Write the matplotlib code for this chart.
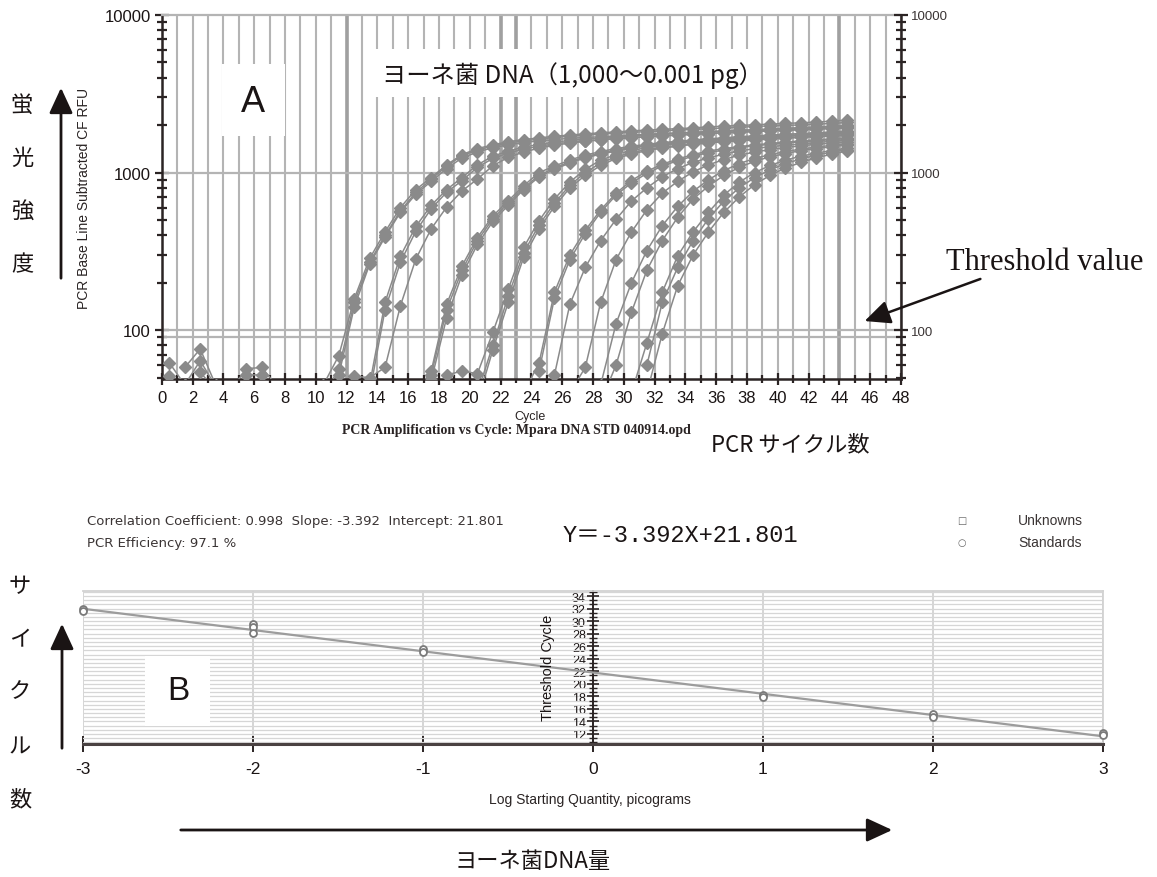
import numpy as np
import matplotlib
matplotlib.use("Agg")
import matplotlib.pyplot as plt
from matplotlib.patches import Rectangle, FancyArrowPatch
from matplotlib.ticker import MultipleLocator, LogLocator, NullFormatter

plt.rcParams["axes.unicode_minus"] = False

# ---- data ----
cycles = np.arange(0.5, 45.0, 1.0)   # 45 reads per well

# amplification curves: values from a start index into `cycles`
rfu_1000pg = [
    [38, 57, 150, 270, 400, 571, 750, 905, 1100, 1280, 1390, 1475, 1540, 1590, 1630, 1670, 1700, 1730,
     1750, 1780, 1800, 1820, 1840, 1860, 1880, 1900, 1920, 1940, 1960, 1980, 1990, 2010, 2030, 2050, 2080],
    [45, 69, 158, 285, 420, 600, 780, 930, 1120, 1300, 1420, 1500, 1570, 1620, 1660, 1700, 1730, 1760,
     1790, 1810, 1840, 1860, 1880, 1900, 1920, 1950, 1970, 1990, 2010, 2030, 2050, 2070, 2090, 2120, 2150],
    [52, 140, 262, 390, 560, 730, 880, 1060, 1240, 1350, 1440, 1500, 1550, 1590, 1620, 1650, 1670, 1690,
     1710, 1730, 1750, 1770, 1790, 1800, 1820, 1840, 1850, 1870, 1880, 1900, 1910, 1930, 1950, 1970],
]
start_1000pg = [10, 10, 11]

rfu_100pg = [
    [51, 50, 58, 143, 283, 440, 604, 765, 910, 1105, 1250, 1350, 1430, 1490, 1540, 1580, 1610, 1640,
     1660, 1690, 1710, 1730, 1750, 1770, 1790, 1810, 1830, 1850, 1860, 1880, 1900, 1920, 1940],
    [45, 150, 295, 455, 620, 780, 930, 1120, 1270, 1370, 1450, 1510, 1560, 1600, 1630, 1660, 1690, 1710,
     1730, 1750, 1770, 1790, 1810, 1830, 1850, 1870, 1890, 1910, 1930, 1950, 1970, 1990],
    [40, 135, 270, 425, 590, 750, 890, 1080, 1230, 1330, 1410, 1470, 1520, 1560, 1590, 1620, 1650, 1670,
     1690, 1710, 1730, 1750, 1770, 1790, 1800, 1820, 1840, 1850, 1870, 1880, 1900, 1920],
]
start_100pg = [12, 13, 13]

rfu_10pg = [
    [40, 55, 146, 256, 387, 530, 662, 825, 1000, 1100, 1200, 1290, 1360, 1420, 1470, 1510, 1550, 1580,
     1610, 1640, 1660, 1690, 1710, 1730, 1750, 1770, 1790, 1810, 1830],
    [35, 52, 135, 240, 370, 510, 640, 800, 960, 1070, 1170, 1260, 1330, 1390, 1440, 1490, 1530, 1560,
     1590, 1620, 1640, 1660, 1680, 1700, 1720, 1740, 1760, 1780, 1800],
    [48, 120, 225, 350, 490, 620, 780, 940, 1050, 1150, 1240, 1310, 1370, 1430, 1470, 1510, 1550, 1580,
     1600, 1630, 1650, 1670, 1690, 1710, 1730, 1750, 1760, 1780],
]
start_10pg = [16, 16, 17]

rfu_1pg = [
    [52, 55, 53, 97, 182, 335, 495, 680, 870, 1050, 1200, 1300, 1380, 1440, 1490, 1530, 1560, 1590,
     1620, 1640, 1660, 1680, 1700, 1720, 1740, 1750, 1770],
    [40, 80, 165, 310, 465, 640, 830, 1000, 1150, 1260, 1340, 1400, 1450, 1490, 1530, 1560, 1590, 1610,
     1630, 1650, 1670, 1690, 1700, 1720, 1740],
    [35, 75, 150, 290, 440, 610, 800, 960, 1110, 1230, 1310, 1380, 1430, 1470, 1510, 1540, 1570, 1590,
     1610, 1630, 1650, 1670, 1690, 1700, 1720],
]
start_1pg = [18, 20, 20]

rfu_01pg = [
    [40, 62, 174, 300, 430, 580, 740, 890, 1020, 1130, 1220, 1300, 1370, 1420, 1460, 1500, 1530, 1560,
     1590, 1610, 1640, 1660],
    [55, 160, 280, 410, 560, 720, 860, 990, 1100, 1190, 1270, 1340, 1390, 1440, 1480, 1510, 1540, 1570,
     1590, 1620, 1640],
    [40, 52, 146, 250, 370, 505, 660, 800, 940, 1060, 1160, 1240, 1310, 1370, 1420, 1460, 1490, 1520,
     1550, 1580, 1600],
]
start_01pg = [23, 24, 24]

rfu_001pg = [
    [40, 58, 150, 280, 420, 580, 740, 880, 1010, 1120, 1210, 1290, 1350, 1400, 1440, 1480, 1510, 1540, 1560],
    [45, 110, 200, 320, 460, 610, 760, 900, 1030, 1140, 1230, 1300, 1360, 1410, 1450, 1490, 1520],
    [35, 60, 130, 240, 370, 520, 680, 820, 960, 1080, 1180, 1260, 1320, 1380, 1420, 1460, 1500],
]
start_001pg = [26, 28, 28]

rfu_0001pg = [
    [40, 83, 174, 296, 420, 560, 720, 870, 1000, 1110, 1200, 1270, 1330, 1380, 1430],
    [60, 150, 250, 370, 510, 660, 800, 930, 1040, 1140, 1220, 1290, 1350, 1400],
    [40, 95, 191, 300, 420, 560, 700, 840, 960, 1070, 1160, 1240, 1310, 1370],
]
start_0001pg = [30, 31, 31]

# early baseline noise that pokes above the axis floor
rfu_noise = [[62, 45], [51, 42], [58, 76, 45], [45, 64, 44], [54, 42], [42, 57, 58, 44], [40, 52, 52, 42]]
start_noise = [0, 0, 1, 1, 2, 4, 4]

threshold_rfu = 91

# standard curve
std_log_qty = [-3, -3, -2, -2, -2, -1, -1, 1, 1, 2, 2, 3, 3]
std_ct = [31.9, 31.6, 29.5, 29.0, 28.1, 25.5, 25.0, 18.2, 17.9, 15.2, 14.7, 12.1, 11.9]
slope = -3.392
intercept = 21.801
corr_coef = 0.998
efficiency = 97.1

# ---- figure ----
W, H = 1157, 878
JP = ["Noto Sans CJK JP", "DejaVu Sans"]
SANS = ["Liberation Sans", "DejaVu Sans"]
SERIF = ["Liberation Serif", "DejaVu Serif"]
GRID = "#b4b4b4"
CURVE = "#8a8a8a"
AXIS = "#2b2424"


def fx(px):
    return px / W


def fy(py):
    return 1 - py / H


def white_box(ax, x0, y0, x1, y1):
    ax.add_patch(Rectangle((fx(x0), fy(y1)), fx(x1) - fx(x0), fy(y0) - fy(y1),
                           transform=ax.figure.transFigure, facecolor="white",
                           edgecolor="none", zorder=1))


def arrow(fig, p0, p1, lw=2.0):
    fig.add_artist(FancyArrowPatch((fx(p0[0]), fy(p0[1])), (fx(p1[0]), fy(p1[1])),
                                   transform=fig.transFigure,
                                   arrowstyle="-|>,head_length=1.3,head_width=0.6",
                                   mutation_scale=12, color="#1a1414", lw=lw))


fig = plt.figure(figsize=(W / 100, H / 100), dpi=100)

# ---- panel A: amplification plot ----
ax = fig.add_axes([fx(161.7), fy(380), fx(901) - fx(161.7), fy(16) - fy(380)])
ax.set_yscale("log")
ax.set_xlim(0, 48)
ax.set_ylim(49, 10000)
ax.set_axisbelow(True)

ax.xaxis.set_major_locator(MultipleLocator(2))
ax.xaxis.set_minor_locator(MultipleLocator(1))
ax.grid(which="both", axis="x", color=GRID, lw=1.5)
for c in [12, 22, 23, 44]:
    ax.axvline(c, color="#a0a0a0", lw=2.6, zorder=0.6)
for v in [100, 1000, threshold_rfu]:
    ax.axhline(v, color=GRID, lw=1.6, zorder=0.6)

ax.set_yticks([100, 1000, 10000], labels=["100", "1000", "10000"])
ax.yaxis.set_minor_locator(LogLocator(base=10, subs=np.arange(2, 10)))
ax.yaxis.set_minor_formatter(NullFormatter())
ax.tick_params(axis="both", which="both", direction="inout", color=AXIS, width=1.6)
ax.tick_params(axis="x", which="major", length=8, labelsize=12, pad=4)
ax.tick_params(axis="x", which="minor", length=6)
ax.tick_params(axis="y", which="major", length=10, labelsize=12, pad=3)
ax.tick_params(axis="y", which="minor", length=7)
for lab in ax.get_xticklabels() + ax.get_yticklabels():
    lab.set_family(SANS)
    lab.set_color("#1a1414")
for s in ["left", "bottom"]:
    ax.spines[s].set_color(AXIS)
    ax.spines[s].set_linewidth(1.8)
ax.spines["top"].set_color(GRID)
ax.spines["top"].set_linewidth(1.6)
ax.spines["right"].set_visible(False)

axr = ax.twinx()
axr.set_yscale("log")
axr.set_ylim(ax.get_ylim())
axr.set_yticks([100, 1000, 10000], labels=["100", "1000", "10000"])
axr.yaxis.set_minor_locator(LogLocator(base=10, subs=np.arange(2, 10)))
axr.yaxis.set_minor_formatter(NullFormatter())
axr.tick_params(axis="y", which="both", direction="inout", color=AXIS, width=1.6,
                labelsize=9.5, pad=2, labelcolor="#3a3434")
axr.tick_params(axis="y", which="major", length=10)
axr.tick_params(axis="y", which="minor", length=7)
for lab in axr.get_yticklabels():
    lab.set_family(SANS)
for s in ["left", "top", "bottom"]:
    axr.spines[s].set_visible(False)
axr.spines["right"].set_color(AXIS)
axr.spines["right"].set_linewidth(1.8)

groups = [(rfu_noise, start_noise), (rfu_1000pg, start_1000pg), (rfu_100pg, start_100pg),
          (rfu_10pg, start_10pg), (rfu_1pg, start_1pg), (rfu_01pg, start_01pg),
          (rfu_001pg, start_001pg), (rfu_0001pg, start_0001pg)]
for curves, starts in groups:
    for vals, s in zip(curves, starts):
        ax.plot(cycles[s:s + len(vals)], vals, color=CURVE, lw=1.1, marker="D", ms=6.5,
                mec=CURVE, mfc=CURVE, zorder=3)

white_box(ax, 222, 65, 285, 137)
white_box(ax, 375, 50, 750, 98)
fig.text(fx(253), fy(103), "A", fontsize=26, family=SANS, ha="center", va="center", color="#1a1414")
fig.text(fx(382), fy(76), "ヨーネ菌 DNA（1,000〜0.001 pg）", fontsize=17.5, family=JP,
         ha="left", va="center", color="#1a1414")

for ch, py in zip("蛍光強度", [105, 158, 211, 265]):
    fig.text(fx(22), fy(py), ch, fontsize=16, family=JP, ha="center", va="center", color="#1a1414")
arrow(fig, (61, 282), (61, 86))
fig.text(fx(84), fy(198), "PCR Base Line Subtracted CF RFU", rotation=90, fontsize=10,
         family=SANS, ha="center", va="center", color="#2a2424")
fig.text(fx(530), fy(417), "Cycle", fontsize=9, family=SANS, ha="center", va="center", color="#2a2424")
fig.text(fx(516), fy(431), "PCR Amplification vs Cycle: Mpara DNA STD 040914.opd", fontsize=10,
         family=SERIF, weight="bold", ha="center", va="center", color="#2a2424")
fig.text(fx(790), fy(445), "PCR サイクル数", fontsize=16, family=JP, ha="center", va="center",
         color="#1a1414")
fig.text(fx(1045), fy(263), "Threshold value", fontsize=22, family=SERIF, ha="center",
         va="center", color="#1a1414")
arrow(fig, (983, 279), (862, 323), lw=1.8)

# ---- panel B: standard curve ----
ax2 = fig.add_axes([fx(82.6), fy(745), fx(1103) - fx(82.6), fy(592) - fy(745)])
ax2.set_xlim(-3, 3)
ax2.set_ylim(10.4, 34.8)
ax2.set_axisbelow(True)
ax2.xaxis.set_major_locator(MultipleLocator(1))
ax2.yaxis.set_minor_locator(MultipleLocator(2 / 3))
ax2.set_yticks(np.arange(12, 35, 2))
ax2.grid(axis="x", which="major", color="#d2d2d2", lw=1.3)
ax2.grid(axis="y", which="both", color="#d6d6d6", lw=0.9)
ax2.spines["left"].set_position(("data", 0))
ax2.spines["left"].set_color(AXIS)
ax2.spines["left"].set_linewidth(1.4)
ax2.spines["bottom"].set_color("#4a4242")
ax2.spines["bottom"].set_linewidth(2.2)
for s in ["top", "right"]:
    ax2.spines[s].set_color("#d2d2d2")
    ax2.spines[s].set_linewidth(1.3)
ax2.tick_params(axis="x", which="major", direction="inout", length=11, width=1.4, color=AXIS,
                labelsize=12.5, pad=7)
ax2.tick_params(axis="y", which="major", direction="inout", length=8, width=1.2, color=AXIS,
                labelsize=9, pad=1)
ax2.tick_params(axis="y", which="minor", direction="inout", length=6, width=1.0, color=AXIS)
for lab in ax2.get_xticklabels() + ax2.get_yticklabels():
    lab.set_family(SANS)
    lab.set_color("#1a1414")

line_x = np.array(ax2.get_xlim())
ax2.plot(line_x, slope * line_x + intercept, color="#9c9c9c", lw=1.6, zorder=3)
ax2.plot(std_log_qty, std_ct, "o", ms=5, mfc="white", mec="#7a7a7a", mew=1.3, zorder=4,
         clip_on=False)

white_box(ax2, 145, 657, 210, 727)
fig.text(fx(178), fy(692), "B", fontsize=24, family=SANS, ha="center", va="center", color="#1a1414")
fig.text(fx(548), fy(668), "Threshold Cycle", rotation=90, fontsize=10.5, family=SANS,
         ha="center", va="center", color="#1a1414")

fig.text(fx(87), fy(522), f"Correlation Coefficient: {corr_coef}  Slope: {slope}  Intercept: {intercept}",
         fontsize=9.5, family="DejaVu Sans", ha="left", va="center", color="#3a3434")
fig.text(fx(87), fy(544), f"PCR Efficiency: {efficiency} %", fontsize=9.5, family="DejaVu Sans",
         ha="left", va="center", color="#3a3434")
fig.text(fx(563), fy(536), f"Y＝{slope}X+{intercept}", fontsize=17,
         family=["Liberation Mono", "Noto Sans CJK JP"], ha="left", va="center", color="#1a1414",
         bbox=dict(boxstyle="square,pad=0.6", fc="white", ec="none"))
fig.text(fx(962), fy(521), "□", fontsize=7, family="DejaVu Sans", ha="center", va="center", color="#666666")
fig.text(fx(962), fy(543), "○", fontsize=7, family="DejaVu Sans", ha="center", va="center", color="#666666")
fig.text(fx(1018), fy(521), "Unknowns", fontsize=10, family=SANS, ha="left", va="center", color="#3a3434")
fig.text(fx(1018), fy(543), "Standards", fontsize=10, family=SANS, ha="left", va="center", color="#3a3434")

for ch, py in zip("サイクル数", [587, 640, 692, 747, 800]):
    fig.text(fx(20), fy(py), ch, fontsize=16, family=JP, ha="center", va="center", color="#1a1414")
arrow(fig, (62, 752), (62, 622))
fig.text(fx(590), fy(800), "Log Starting Quantity, picograms", fontsize=10, family=SANS,
         ha="center", va="center", color="#2a2424")
arrow(fig, (178, 831), (895, 831))
fig.text(fx(533), fy(862), "ヨーネ菌DNA量", fontsize=16, family=JP, ha="center", va="center",
         color="#1a1414")

fig.savefig("out.png", dpi=100)
